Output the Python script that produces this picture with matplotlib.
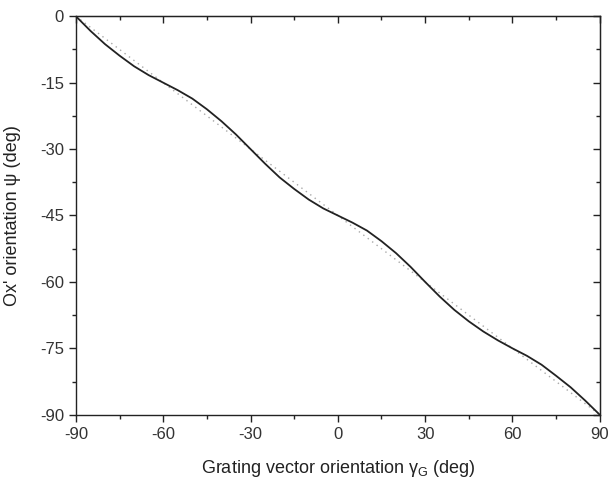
import matplotlib
matplotlib.use("Agg")
import matplotlib.pyplot as plt
from matplotlib.ticker import MultipleLocator

plt.rcParams["font.family"] = ["Liberation Sans", "DejaVu Sans"]
plt.rcParams["mathtext.fontset"] = "custom"
plt.rcParams["mathtext.rm"] = "Liberation Sans"
plt.rcParams["axes.unicode_minus"] = False

# grating vector orientation (deg)
gamma = [-90, -85, -80, -75, -70, -65, -60, -55, -50, -45, -40, -35, -30,
         -25, -20, -15, -10, -5, 0, 5, 10, 15, 20, 25, 30,
         35, 40, 45, 50, 55, 60, 65, 70, 75, 80, 85, 90]
# Ox' orientation (deg)
psi = [0.0, -3.3, -6.3, -8.9, -11.3, -13.3, -15.0, -16.7, -18.6, -21.0, -23.7, -26.7, -30.0,
       -33.3, -36.4, -39.0, -41.4, -43.4, -45.0, -46.6, -48.4, -50.8, -53.5, -56.6, -60.0,
       -63.3, -66.3, -68.9, -71.2, -73.2, -75.0, -76.7, -78.7, -81.2, -83.8, -86.8, -90.0]
# reference diagonal (dotted)
diag_x = [-90, 90]
diag_y = [0, -90]

fig = plt.figure(figsize=(6.12, 4.92), dpi=100)
ax = fig.add_axes([0.124, 0.157, 0.856, 0.810])

ax.plot(diag_x, diag_y, linestyle=(0, (1, 3)), color="#a8a8a8", linewidth=1.0)
ax.plot(gamma, psi, color="#222222", linewidth=1.3)

ax.set_xlim(-90, 90)
ax.set_ylim(-90, 0)
ax.xaxis.set_major_locator(MultipleLocator(30))
ax.xaxis.set_minor_locator(MultipleLocator(15))
ax.yaxis.set_major_locator(MultipleLocator(15))
ax.yaxis.set_minor_locator(MultipleLocator(7.5))

for s in ax.spines.values():
    s.set_linewidth(1.0)
    s.set_color("#222222")

ax.tick_params(which="both", direction="out", colors="#222222", labelsize=12,
               labelcolor="#333333", width=1.0)
ax.tick_params(which="major", length=5)
ax.tick_params(which="minor", length=3)

# mirrored ticks on top and right point inward
top = ax.secondary_xaxis("top")
top.xaxis.set_major_locator(MultipleLocator(30))
top.xaxis.set_minor_locator(MultipleLocator(15))
top.tick_params(which="both", direction="in", labeltop=False, width=1.0, colors="#222222")
top.tick_params(which="major", length=5)
top.tick_params(which="minor", length=3)
right = ax.secondary_yaxis("right")
right.yaxis.set_major_locator(MultipleLocator(15))
right.yaxis.set_minor_locator(MultipleLocator(7.5))
right.tick_params(which="both", direction="in", labelright=False, width=1.0, colors="#222222")
right.tick_params(which="major", length=5)
right.tick_params(which="minor", length=3)

ax.set_xlabel("Grating vector orientation γ$_{\\mathrm{G}}$ (deg)", fontsize=13,
              color="#222222", labelpad=12)
ax.set_ylabel("Ox' orientation ψ (deg)", fontsize=13, color="#222222")
ax.yaxis.set_label_coords(-0.105, 0.5)

fig.savefig("out.png", dpi=100)
